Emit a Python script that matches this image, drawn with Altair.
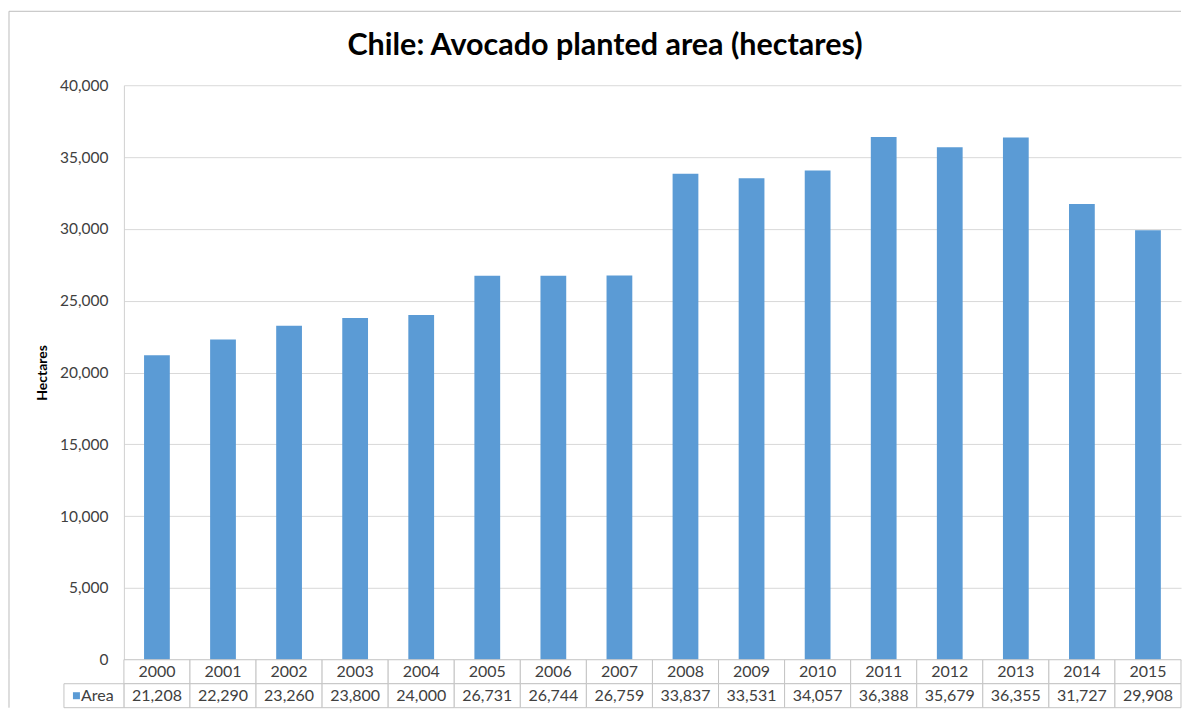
import altair as alt
import pandas as pd

# ---- data ----
years = ["2000", "2001", "2002", "2003", "2004", "2005", "2006", "2007",
         "2008", "2009", "2010", "2011", "2012", "2013", "2014", "2015"]
area = [21208, 22290, 23260, 23800, 24000, 26731, 26744, 26759,
        33837, 33531, 34057, 36388, 35679, 36355, 31727, 29908]
series_name = "Area"
chart_title = "Chile: Avocado planted area (hectares)"
y_title = "Hectares"
y_ticks = [0, 5000, 10000, 15000, 20000, 25000, 30000, 35000, 40000]
row_names = ["Year", series_name]

# ---- styles ----
FONT = "Lato"
BAR = "#5B9BD5"
TXT = "#404040"
GRID = "#D9D9D9"
CELL = "#C4C4C4"
BORDER = "#BDBDBD"
W = 1058
H = 575
ROW_H = 24
TOPGAP = 74

df = pd.DataFrame({"year": years, "area": area})
xscale = alt.Scale(domain=years, paddingInner=0, paddingOuter=0)
one = pd.DataFrame({"d": [0]})

bars = alt.Chart(df).mark_bar(color=BAR, width={"band": 0.39}).encode(
    x=alt.X("year:N", scale=xscale, sort=years, axis=None),
    y=alt.Y("area:Q", scale=alt.Scale(domain=[0, 40000], nice=False),
            axis=alt.Axis(values=y_ticks, format=",d", title=y_title,
                          labelFont=FONT, labelFontSize=15.5, labelColor=TXT,
                          labelPadding=16, ticks=False, domain=True,
                          domainColor="#D0D0D0", gridColor=GRID,
                          titleFont=FONT, titleFontSize=14, titleFontWeight="bold",
                          titleColor="#000000", titlePadding=10)),
)

top_border = alt.Chart(one).mark_rule(color=BORDER, strokeWidth=1).encode(
    x=alt.value(-115), x2=alt.value(W), y=alt.value(-TOPGAP))
left_border_top = alt.Chart(one).mark_rule(color=BORDER, strokeWidth=1).encode(
    x=alt.value(-115), y=alt.value(-TOPGAP), y2=alt.value(H))

top = alt.layer(top_border, left_border_top, bars).properties(width=W, height=H)

# ---- data table ----
rows = []
for yv, av in zip(years, area):
    rows.append({"year": yv, "row": "Year", "label": yv})
    rows.append({"year": yv, "row": series_name, "label": f"{av:,}"})
tdf = pd.DataFrame(rows)
yscale = alt.Scale(domain=row_names, paddingInner=0, paddingOuter=0)

cells = alt.Chart(tdf).mark_rect(fill="white", stroke=CELL, strokeWidth=1).encode(
    x=alt.X("year:N", scale=xscale, sort=years, axis=None),
    y=alt.Y("row:N", scale=yscale, sort=row_names, axis=None),
)
cell_text = alt.Chart(tdf).mark_text(font=FONT, fontSize=16, color=TXT).encode(
    x=alt.X("year:N", scale=xscale, sort=years, axis=None),
    y=alt.Y("row:N", scale=yscale, sort=row_names, axis=None),
    text="label:N",
)
hdf = pd.DataFrame({"row": [series_name], "label": [series_name]})
head_cell = alt.Chart(hdf).mark_rect(fill="white", stroke=CELL, strokeWidth=1).encode(
    x=alt.value(-60), x2=alt.value(0),
    y=alt.Y("row:N", scale=yscale, sort=row_names, axis=None),
)
head_sym = alt.Chart(hdf).mark_square(color=BAR, size=49, opacity=1).encode(
    x=alt.value(-47.5),
    y=alt.Y("row:N", scale=yscale, sort=row_names, axis=None),
)
head_text = alt.Chart(hdf).mark_text(font=FONT, fontSize=16, color=TXT, align="left").encode(
    x=alt.value(-43),
    y=alt.Y("row:N", scale=yscale, sort=row_names, axis=None),
    text="label:N",
)
left_border_bot = alt.Chart(one).mark_rule(color=BORDER, strokeWidth=1).encode(
    x=alt.value(-115), y=alt.value(0), y2=alt.value(2 * ROW_H))

table = alt.layer(left_border_bot, cells, cell_text, head_cell, head_sym, head_text).properties(
    width=W, height=2 * ROW_H)

chart = alt.vconcat(top, table, spacing=0, bounds="flush").properties(
    title=alt.TitleParams(chart_title, font=FONT, fontSize=30.5, fontWeight="bold",
                          color="#000000", anchor="middle", offset=-51, dx=10),
    padding={"left": 0, "top": 2, "right": 0, "bottom": 0},
    background="white",
).configure_view(stroke=None)

chart.save("out.html", embed_options={"renderer": "svg", "actions": False})
